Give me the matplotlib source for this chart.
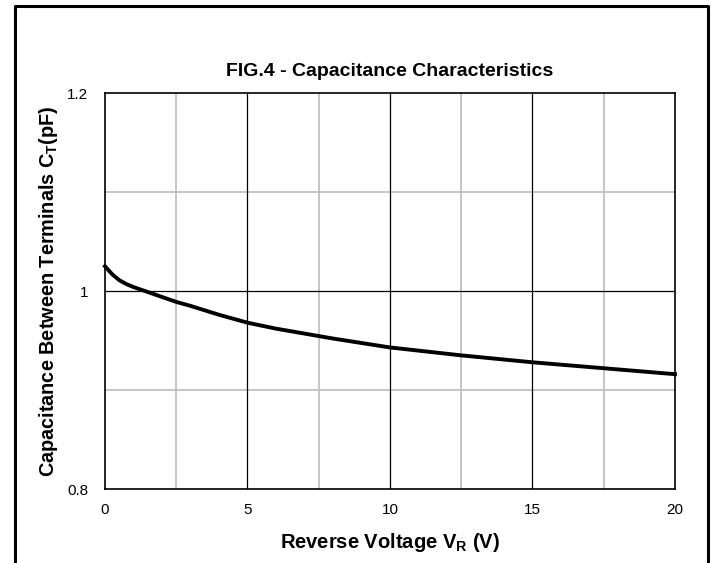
import matplotlib
matplotlib.use("Agg")
from matplotlib import pyplot as plt
from matplotlib.lines import Line2D

plt.rcParams['font.family'] = ['Liberation Sans', 'DejaVu Sans']

# values
vr = [0, 0.25, 0.5, 0.75, 1, 1.5, 2, 2.5, 3, 4, 5, 6, 7, 7.5, 8, 9, 10, 12.5, 15, 17.5, 20]
ct = [1.025, 1.017, 1.011, 1.007, 1.004, 0.999, 0.994, 0.989, 0.985, 0.976, 0.968,
      0.962, 0.957, 0.9545, 0.952, 0.9475, 0.943, 0.935, 0.928, 0.922, 0.916]

x_major = [0, 5, 10, 15, 20]
x_minor = [2.5, 7.5, 12.5, 17.5]
y_major = [0.8, 1.0, 1.2]
y_minor = [0.9, 1.1]
y_ticklabels = ['0.8', '1', '1.2']

fig = plt.figure(figsize=(7.17, 5.63), dpi=100)
ax = fig.add_axes([0.1464, 0.1314, 0.795, 0.7034])

ax.set_xlim(0, 20)
ax.set_ylim(0.8, 1.2)

for x in x_minor:
    ax.axvline(x, color='#c0c0c0', lw=1.3, zorder=1)
for y in y_minor:
    ax.axhline(y, color='#c0c0c0', lw=1.3, zorder=1)
for x in x_major[1:-1]:
    ax.axvline(x, color='black', lw=0.9, zorder=2)
for y in y_major[1:-1]:
    ax.axhline(y, color='black', lw=0.9, zorder=2)

ax.plot(vr, ct, color='black', lw=2.8, zorder=3, clip_on=False, solid_joinstyle='round')

ax.set_xticks(x_major)
ax.set_xticklabels([str(v) for v in x_major])
ax.set_yticks(y_major)
ax.set_yticklabels(y_ticklabels)
ax.tick_params(length=0, labelsize=11, colors='black')
ax.tick_params(axis='x', pad=10)
ax.tick_params(axis='y', pad=12)
for s in ax.spines.values():
    s.set_linewidth(1.2)

ax.set_title('FIG.4 - Capacitance Characteristics', fontsize=14, fontweight='bold', pad=12)
ax.set_xlabel(r'Reverse Voltage V$_\mathregular{R}$ (V)', fontsize=14.5, fontweight='bold', labelpad=10)
ax.set_ylabel(r'Capacitance Between Terminals C$_\mathregular{T}$(pF)', fontsize=14.3,
              fontweight='bold', labelpad=5)

# outer frame (bottom edge lies below the image)
fig.add_artist(Line2D([0.021, 0.021, 0.987, 0.987], [-0.1, 0.9893, 0.9893, -0.1],
                      color='black', lw=2.2, transform=fig.transFigure))

fig.savefig('out.png', dpi=100)
